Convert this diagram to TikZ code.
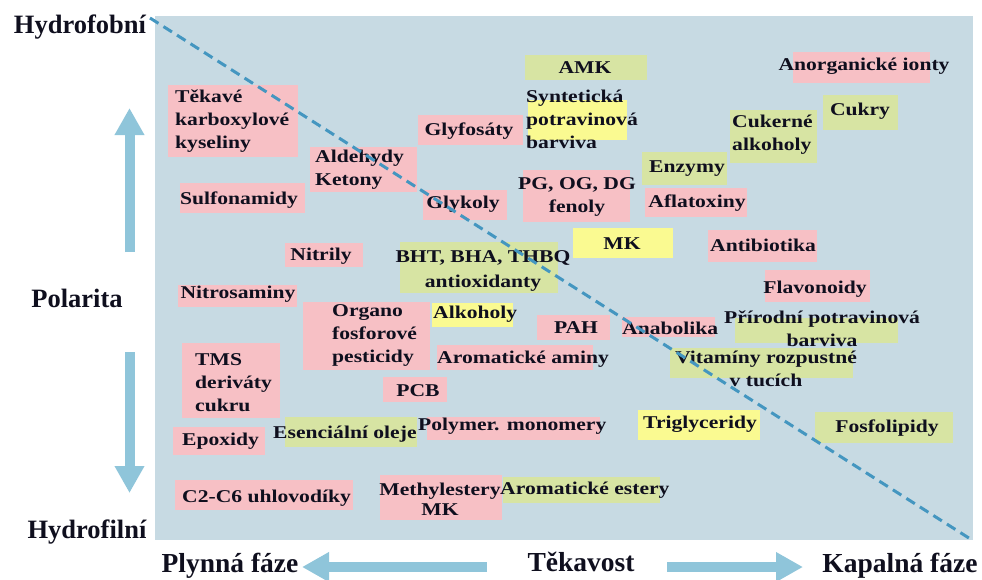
\documentclass[tikz,border=0pt]{standalone}
\usepackage{fontspec}
\setmainfont{Liberation Serif}[FakeStretch=1.2]
\newfontfamily\axisfont{Liberation Serif}
\usetikzlibrary{arrows.meta}
\definecolor{bgblue}{RGB}{199,218,227}
\definecolor{pinkc}{RGB}{247,192,197}
\definecolor{greenc}{RGB}{215,228,163}
\definecolor{yellowc}{RGB}{250,250,145}
\definecolor{arrowc}{RGB}{143,197,218}
\definecolor{dashc}{RGB}{68,150,192}
\definecolor{txtc}{RGB}{15,15,30}
\tikzset{
  lbl/.style={inner sep=0pt, text=txtc, font=\fontsize{18}{23}\selectfont\bfseries},
  axlbl/.style={inner sep=0pt, text=txtc, anchor=base, font=\axisfont\fontsize{26.5}{30}\selectfont\bfseries},
  botlbl/.style={inner sep=0pt, text=txtc, anchor=base, font=\axisfont\fontsize{27.5}{30}\selectfont\bfseries},
  pinkbox/.style={fill=pinkc},
  greenbox/.style={fill=greenc},
  yellowbox/.style={fill=yellowc},
  bigarrow/.style={draw=arrowc, line width=10pt, -{Triangle[width=28pt,length=27pt]}},
  divider/.style={draw=dashc, line width=3pt, dash pattern=on 10pt off 6pt}
}
\begin{document}
\begin{tikzpicture}[x=1pt,y=-1pt]
\useasboundingbox (0,0) rectangle (982,579);
% background panel
\fill[bgblue] (155,16) rectangle (973,540);

% coloured boxes
\fill[pinkbox] (168,85) rectangle (298,157);
\fill[pinkbox] (310,147) rectangle (417,192);
\fill[pinkbox] (180,183) rectangle (305,213);
\fill[pinkbox] (418,115) rectangle (523,145);
\fill[pinkbox] (423,190) rectangle (507,220);
\fill[pinkbox] (285,243) rectangle (363,267);
\fill[greenbox] (400,242) rectangle (558,293);
\fill[greenbox] (525,55) rectangle (647,80);
\fill[yellowbox] (528,100) rectangle (627,140);
\fill[pinkbox] (793,52) rectangle (930,83);
\fill[greenbox] (823,95) rectangle (898,130);
\fill[greenbox] (730,110) rectangle (817,163);
\fill[greenbox] (642,152) rectangle (727,185);
\fill[pinkbox] (523,170) rectangle (630,222);
\fill[pinkbox] (645,188) rectangle (747,217);
\fill[yellowbox] (573,228) rectangle (673,258);
\fill[pinkbox] (708,230) rectangle (817,262);
\fill[pinkbox] (178,285) rectangle (297,307);
\fill[pinkbox] (303,302) rectangle (430,370);
\fill[yellowbox] (432,303) rectangle (513,327);
\fill[pinkbox] (537,315) rectangle (610,340);
\fill[pinkbox] (437,345) rectangle (593,370);
\fill[pinkbox] (622,317) rectangle (715,337);
\fill[pinkbox] (765,270) rectangle (870,302);
\fill[greenbox] (735,318) rectangle (898,343);
\fill[greenbox] (670,348) rectangle (853,378);
\fill[pinkbox] (182,343) rectangle (280,418);
\fill[pinkbox] (383,377) rectangle (447,402);
\fill[pinkbox] (173,427) rectangle (265,455);
\fill[greenbox] (285,417) rectangle (417,447);
\fill[pinkbox] (427,417) rectangle (600,440);
\fill[yellowbox] (638,410) rectangle (760,440);
\fill[greenbox] (815,412) rectangle (953,443);
\fill[pinkbox] (175,480) rectangle (353,510);
\fill[pinkbox] (380,475) rectangle (502,520);
\fill[greenbox] (503,477) rectangle (660,503);

% labels inside the panel
\node[lbl, anchor=west, align=left] (tek) at (175,121) {Těkavé\\karboxylové\\kyseliny};
\node[lbl, anchor=west, align=left] (ald) at (315,170) {Aldehydy\\Ketony};
\node[lbl] (sul) at (239,200) {Sulfonamidy};
\node[lbl] (gly) at (469,131) {Glyfosáty};
\node[lbl] (glk) at (463,204) {Glykoly};
\node[lbl] (nit) at (321,256) {Nitrily};
\node[lbl, align=center, font=\fontsize{18}{25}\selectfont\bfseries] (bht) at (483,271) {BHT, BHA, THBQ\\antioxidanty};
\node[lbl] (amk) at (585,68) {AMK};
\node[lbl, anchor=west, align=left] (syn) at (526,119) {Syntetická\\potravinová\\barviva};
\node[lbl] (ano) at (864,66) {Anorganické ionty};
\node[lbl] (cuk) at (860,111) {Cukry};
\node[lbl, anchor=west, align=left] (cal) at (732,135) {Cukerné\\alkoholy};
\node[lbl] (enz) at (687,169) {Enzymy};
\node[lbl, align=center] (pg) at (577,197) {PG, OG, DG\\fenoly};
\node[lbl] (afl) at (697,203) {Aflatoxiny};
\node[lbl] (mk) at (622,244) {MK};
\node[lbl] (ant) at (763,245) {Antibiotika};
\node[lbl] (nis) at (238,294) {Nitrosaminy};
\node[lbl, anchor=west, align=left] (org) at (332,335) {Organo\\fosforové\\pesticidy};
\node[lbl, anchor=west] (alk) at (433,314) {Alkoholy};
\node[lbl] (pah) at (576,328) {PAH};
\node[lbl, anchor=west] (ara) at (437,359) {Aromatické aminy};
\node[lbl, anchor=west] (ana) at (622,328) {Anabolika};
\node[lbl] (fla) at (815,289) {Flavonoidy};
\node[lbl, align=center] (pri) at (822,329) {Přírodní potravinová\\barviva};
\node[lbl, align=center] (vit) at (766,369) {Vitamíny rozpustné\\v tucích};
\node[lbl, anchor=west, align=left] (tms) at (195,383) {TMS\\deriváty\\cukru};
\node[lbl] (pcb) at (418,391) {PCB};
\node[lbl, anchor=west] (epo) at (182,441) {Epoxidy};
\node[lbl, anchor=west] (ese) at (273,434) {Esenciální oleje};
\node[lbl, anchor=west] (pol) at (418,426) {Polymer. monomery};
\node[lbl] (tri) at (700,424) {Triglyceridy};
\node[lbl] (fos) at (887,428) {Fosfolipidy};
\node[lbl, anchor=west] (c26) at (182,498) {C2-C6 uhlovodíky};
\node[lbl, align=center, font=\fontsize{18}{20}\selectfont\bfseries] (met) at (440,499) {Methylestery\\MK};
\node[lbl, anchor=west] (are) at (500,490) {Aromatické estery};

% dashed divider
\coordinate (dA) at (150,18);
\coordinate (dB) at (972,540);
\draw[divider] (dA) -- (dB);

% axis labels
\node[axlbl] (hfob) at (80,33) {Hydrofobní};
\node[axlbl] (pola) at (77,307) {Polarita};
\node[axlbl] (hfil) at (87,538) {Hydrofilní};
\node[botlbl] (plyn) at (230,572) {Plynná fáze};
\node[botlbl] (tekv) at (581,571) {Těkavost};
\node[botlbl] (kapa) at (900,572) {Kapalná fáze};

% axis arrows
\coordinate (upS) at (129.5,252);
\coordinate (upE) at (129.5,108);
\coordinate (dnS) at (129.5,352);
\coordinate (dnE) at (129.5,493);
\coordinate (lfS) at (487,567);
\coordinate (lfE) at (302,567);
\coordinate (rtS) at (667,567);
\coordinate (rtE) at (803,567);
\draw[bigarrow] (upS) -- (upE);
\draw[bigarrow] (dnS) -- (dnE);
\draw[bigarrow] (lfS) -- (lfE);
\draw[bigarrow] (rtS) -- (rtE);
\end{tikzpicture}
\end{document}
